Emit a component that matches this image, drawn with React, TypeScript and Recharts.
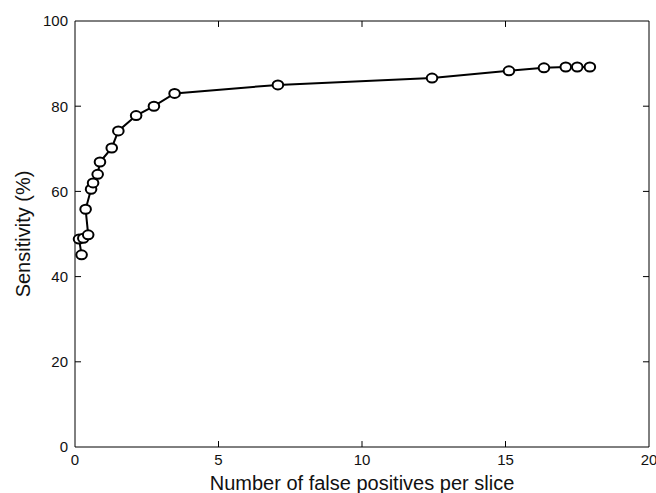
import React from 'react';
import { LineChart, Line, XAxis, YAxis, ReferenceLine, Label } from 'recharts';

// false positives per slice vs sensitivity (%)
const fpPerSlice = [0.23, 0.14, 0.29, 0.46, 0.37, 0.56, 0.63, 0.79, 0.87, 1.28, 1.51, 2.13, 2.75, 3.47, 7.07, 12.44, 15.12, 16.34, 17.1, 17.5, 17.94];
const sensitivity = [45.1, 48.8, 49.0, 49.8, 55.8, 60.5, 62.0, 64.0, 66.9, 70.2, 74.2, 77.8, 80.0, 83.0, 85.0, 86.6, 88.3, 89.0, 89.2, 89.2, 89.2];

const xTicks = [0, 5, 10, 15, 20];
const yTicks = [0, 20, 40, 60, 80, 100];

const data = fpPerSlice.map((x, i) => ({ x, y: sensitivity[i] }));

const font = '"Liberation Sans", Arial, sans-serif';
const tickStyle = { fontSize: 15, fill: '#111', fontFamily: font };

// inward tick lengths in data units (~6px)
const xTickLen = 1.4;
const yTickLen = 0.21;

const Marker = (props: any) => {
    const { cx, cy } = props;
    if (cx == null || cy == null) return null;
    return <ellipse cx={cx} cy={cy} rx={5.3} ry={4.5} fill="#fff" stroke="#000" strokeWidth={2} />;
};

export default function App() {
    return (
        <div style={{ position: 'absolute', left: 0, top: 0, background: '#fff' }}>
            <LineChart width={656} height={493} data={data} margin={{ top: 21, right: 7, left: 0, bottom: 0 }}>
                <XAxis
                    type="number"
                    dataKey="x"
                    domain={[0, 20]}
                    ticks={xTicks}
                    height={46}
                    tickLine={false}
                    tickSize={6}
                    tickMargin={1}
                    axisLine={{ stroke: '#000', strokeWidth: 1 }}
                    tick={tickStyle}
                    interval={0}
                >
                    <Label
                        value="Number of false positives per slice"
                        position="insideBottom"
                        offset={3}
                        style={{ fontSize: 20, fill: '#111', fontFamily: font }}
                    />
                </XAxis>
                <YAxis
                    type="number"
                    domain={[0, 100]}
                    ticks={yTicks}
                    width={75}
                    tickLine={false}
                    tickSize={6}
                    tickMargin={1}
                    axisLine={{ stroke: '#000', strokeWidth: 1 }}
                    tick={tickStyle}
                    interval={0}
                >
                    <Label
                        value="Sensitivity (%)"
                        angle={-90}
                        position="insideLeft"
                        offset={23}
                        style={{ fontSize: 20, fill: '#111', fontFamily: font, textAnchor: 'middle' }}
                    />
                </YAxis>
                <ReferenceLine y={100} stroke="#000" strokeWidth={1} />
                <ReferenceLine x={20} stroke="#000" strokeWidth={1} />
                {xTicks.slice(1, -1).map((t) => (
                    <ReferenceLine key={'xb' + t} segment={[{ x: t, y: 0 }, { x: t, y: xTickLen }]} stroke="#000" strokeWidth={1} />
                ))}
                {xTicks.slice(1, -1).map((t) => (
                    <ReferenceLine key={'xt' + t} segment={[{ x: t, y: 100 }, { x: t, y: 100 - xTickLen }]} stroke="#000" strokeWidth={1} />
                ))}
                {yTicks.slice(1, -1).map((t) => (
                    <ReferenceLine key={'yl' + t} segment={[{ x: 0, y: t }, { x: yTickLen, y: t }]} stroke="#000" strokeWidth={1} />
                ))}
                {yTicks.slice(1, -1).map((t) => (
                    <ReferenceLine key={'yr' + t} segment={[{ x: 20, y: t }, { x: 20 - yTickLen, y: t }]} stroke="#000" strokeWidth={1} />
                ))}
                <Line
                    type="linear"
                    dataKey="y"
                    stroke="#000"
                    strokeWidth={2}
                    dot={<Marker />}
                    activeDot={false}
                    isAnimationActive={false}
                />
            </LineChart>
        </div>
    );
}
